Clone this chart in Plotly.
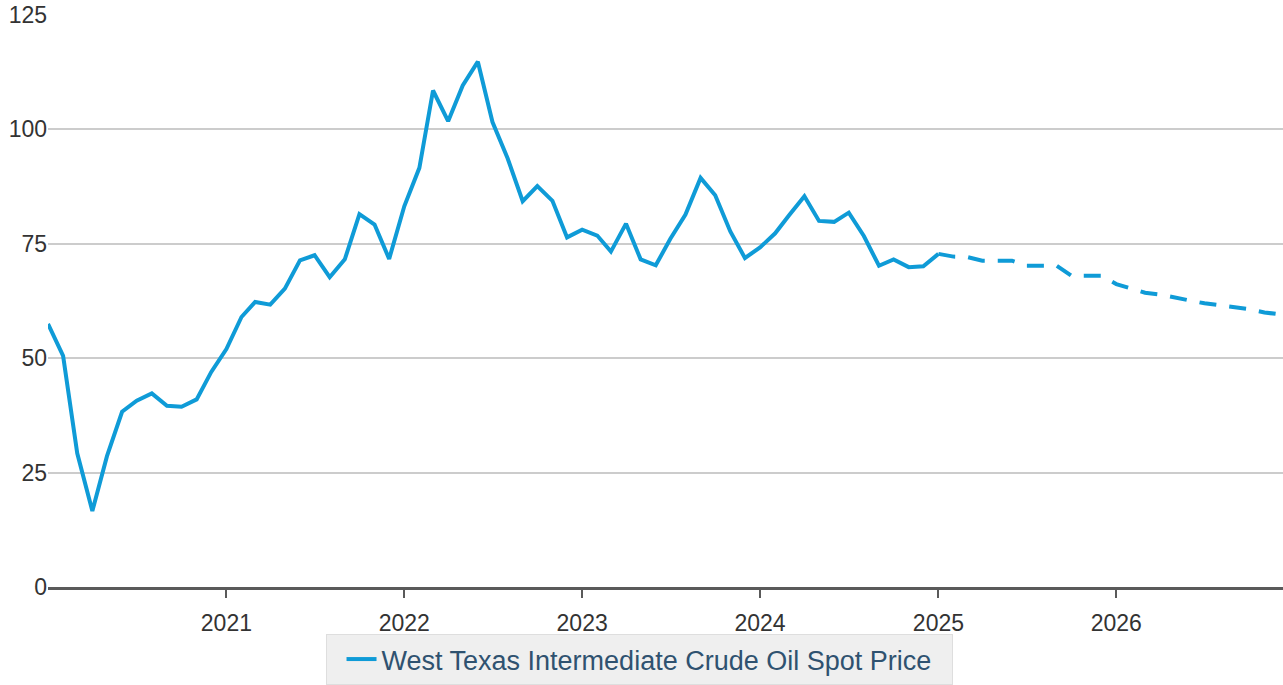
import pandas as pd
import plotly.graph_objects as go

# monthly history, Jan 2020 - Jan 2025
hist_months = pd.date_range("2020-01-01", "2025-01-01", freq="MS")
hist_price = [
    57.5, 50.5, 29.2, 16.6, 28.6, 38.3, 40.7, 42.3, 39.6, 39.4, 41.0, 47.0,
    52.0, 59.0, 62.3, 61.7, 65.2, 71.4, 72.5, 67.7, 71.6, 81.5, 79.2, 71.7,
    83.2, 91.6, 108.5, 101.8, 109.6, 114.8, 101.6, 93.7, 84.3, 87.6, 84.4, 76.4,
    78.1, 76.8, 73.3, 79.4, 71.6, 70.3, 76.1, 81.4, 89.4, 85.6, 77.7, 71.9,
    74.2, 77.3, 81.3, 85.4, 80.0, 79.8, 81.8, 76.7, 70.2, 71.6, 69.9, 70.1,
    72.8,
]

# forecast, Jan 2025 - Dec 2026
fc_months = pd.date_range("2025-01-01", "2026-12-01", freq="MS")
fc_price = [
    72.8, 72.2, 72.1, 71.3, 71.3, 71.3, 70.2, 70.2, 70.2, 68.0, 68.0, 68.0,
    66.2, 65.1, 64.3, 63.9, 63.2, 62.6, 62.0, 61.6, 61.0, 60.7, 60.0, 59.6,
]

year_ticks = ["2021-01-01", "2022-01-01", "2023-01-01", "2024-01-01", "2025-01-01", "2026-01-01"]
year_labels = ["2021", "2022", "2023", "2024", "2025", "2026"]
y_ticks = [0, 25, 50, 75, 100, 125]

blue = "#0f9bd7"

fig = go.Figure()
fig.add_trace(go.Scatter(
    x=hist_months, y=hist_price, mode="lines",
    name="West Texas Intermediate Crude Oil Spot Price\u00a0\u00a0",
    line=dict(color=blue, width=4),
))
fig.add_trace(go.Scatter(
    x=fc_months, y=fc_price, mode="lines", showlegend=False,
    line=dict(color=blue, width=4, dash="17px,13px"),
))

fig.update_layout(
    width=1283, height=685,
    margin=dict(l=48, r=0, t=15, b=90),
    plot_bgcolor="white", paper_bgcolor="white",
    font=dict(family="Liberation Sans, Arial, sans-serif", size=23, color="#333333"),
    xaxis=dict(
        range=["2020-01-01", "2026-12-09"], automargin=False,
        tickvals=year_ticks, ticktext=year_labels,
        showgrid=False, showline=True, linecolor="#5a5a5a", linewidth=2.5,
        ticks="outside", ticklen=8, tickcolor="#5a5a5a", tickwidth=2,
        ticklabelstandoff=6,
        tickfont=dict(size=23, color="#333333"),
    ),
    yaxis=dict(
        range=[0, 125], tickvals=y_ticks, automargin=False,
        showgrid=True, gridcolor="#cccccc", gridwidth=2,
        zeroline=False, showline=False, ticks="", ticklen=0,
        tickfont=dict(size=23, color="#333333"),
    ),
    legend=dict(
        orientation="h", x=0.479, xanchor="center", y=-0.083, yanchor="top",
        bgcolor="#efefef", bordercolor="#dedede", borderwidth=1,
        font=dict(size=27, color="#2f5270"),
        title=dict(text="\u00a0", font=dict(size=16)),
    ),
)

fig.write_html(
    "out.html",
    config={"displayModeBar": False},
    post_script="document.body.style.margin='0';document.body.style.overflow='hidden';",
)
